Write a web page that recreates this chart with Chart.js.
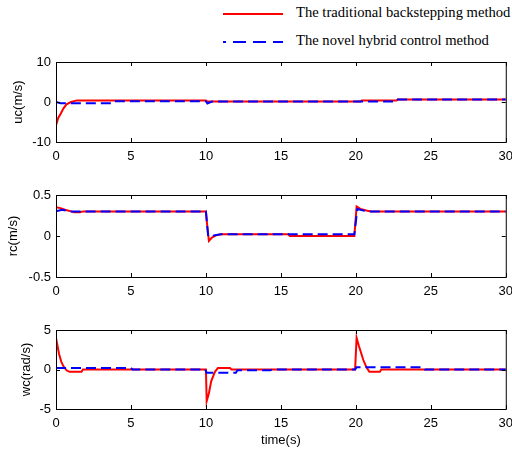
<!DOCTYPE html>
<html>
<head>
<meta charset="utf-8">
<script src="https://cdn.jsdelivr.net/npm/chart.js@4/dist/chart.umd.min.js"></script>
<style>
  html, body { margin: 0; padding: 0; width: 512px; height: 452px; overflow: hidden; background: #fff; }
  canvas { position: absolute; left: 0; }
  .legend { position: absolute; left: 222px; font-family: "Liberation Serif", "Times New Roman", serif; font-size: 14.6px; color: #000; white-space: nowrap; }
  .legend svg { vertical-align: middle; margin-right: 12px; }
</style>
</head>
<body>
<div class="legend" style="top:4px;"><svg width="62" height="6"><line x1="1" y1="3" x2="61" y2="3" stroke="#ff0000" stroke-width="2"/></svg>The traditional backstepping method</div>
<div class="legend" style="top:32px;"><svg width="62" height="6"><line x1="1" y1="3" x2="61" y2="3" stroke="#0000ff" stroke-width="2" stroke-dasharray="3,7,13,7,13,7,13"/></svg>The novel hybrid control method</div>

<canvas id="ucChart" width="520" height="116" style="top:49px"></canvas>
<canvas id="rcChart" width="520" height="117" style="top:182px"></canvas>
<canvas id="wcChart" width="520" height="135" style="top:317px"></canvas>

<script>
// time axis ticks
const timeTicks = [0, 5, 10, 15, 20, 25, 30];

// uc(m/s)
const ucTradT = [0, 0.15, 0.33, 0.5, 0.7, 1.0, 1.4, 10, 10.1, 20.3, 20.4, 22.7, 22.8, 30];
const ucTradV = [-5.8, -4, -2.8, -1.6, -0.6, 0, 0.4, 0.4, 0.1, 0.1, 0.4, 0.4, 0.6, 0.6];
const ucHybT = [0, 0.3, 3.8, 3.9, 10, 10.1, 10.4, 22.6, 22.7, 30];
const ucHybV = [0, -0.3, -0.3, 0.2, 0.2, -0.4, 0.1, 0.1, 0.6, 0.6];

// rc(m/s)
const rcTradT = [0, 0.3, 0.6, 1.0, 1.2, 1.6, 1.8, 10, 10.1, 10.2, 10.4, 10.7, 11, 15.5, 15.6, 19.9, 20.05, 20.3, 20.7, 21, 30];
const rcTradV = [0.35, 0.34, 0.32, 0.3, 0.29, 0.29, 0.3, 0.3, 0.1, -0.06, -0.02, 0.01, 0.02, 0.02, 0, 0, 0.36, 0.33, 0.31, 0.3, 0.3];
const rcHybT = [0, 0.4, 0.9, 10, 10.15, 10.3, 10.6, 11, 19.9, 20.1, 20.5, 21, 30];
const rcHybV = [0.3, 0.32, 0.3, 0.3, 0, -0.01, 0.01, 0.02, 0.02, 0.33, 0.31, 0.3, 0.3];

// wc(rad/s)
const wcTradT = [0, 0.1, 0.2, 0.35, 0.5, 0.7, 0.9, 1.7, 1.8, 10, 10.05, 10.2, 10.35, 10.6, 10.8, 11.6, 11.7, 19.95, 20.05, 20.2, 20.5, 20.7, 20.9, 21.6, 21.7, 30];
const wcTradV = [4, 3, 2, 1, 0.4, -0.1, -0.3, -0.3, 0, 0, -4, -3, -1.5, -0.3, 0.2, 0.2, 0, 0, 4, 3, 1.2, 0.3, -0.3, -0.3, 0, 0];
const wcHybT = [0, 5, 5.1, 9.95, 10.05, 12, 12.1, 14.3, 14.4, 19.95, 20.05, 24.5, 24.6, 30];
const wcHybV = [0.2, 0.2, 0, 0, -0.4, -0.4, -0.1, -0.1, 0, 0, 0.3, 0.3, 0, 0];

const tickFont = { family: 'Liberation Sans, Arial, sans-serif', size: 13 };

// box around the plot area, inward ticks and the rotated y label
const framePlugin = {
  id: 'frame',
  afterDraw(chart, args, opts) {
    const { ctx, chartArea: a, scales } = chart;
    ctx.save();
    ctx.strokeStyle = '#000';
    ctx.lineWidth = 1;
    ctx.strokeRect(a.left + 0.5, a.top + 0.5, a.right - a.left, a.bottom - a.top);
    scales.x.ticks.forEach(t => {
      const px = Math.round(scales.x.getPixelForValue(t.value)) + 0.5;
      ctx.beginPath();
      ctx.moveTo(px, a.top); ctx.lineTo(px, a.top + 4);
      ctx.moveTo(px, a.bottom); ctx.lineTo(px, a.bottom - 4);
      ctx.stroke();
    });
    scales.y.ticks.forEach(t => {
      const py = Math.round(scales.y.getPixelForValue(t.value)) + 0.5;
      ctx.beginPath();
      ctx.moveTo(a.left, py); ctx.lineTo(a.left + 4, py);
      ctx.moveTo(a.right, py); ctx.lineTo(a.right - 4, py);
      ctx.stroke();
    });
    // y label
    ctx.translate(opts.x, (a.top + a.bottom) / 2);
    ctx.rotate(-Math.PI / 2);
    ctx.fillStyle = '#000';
    ctx.font = '13px "Liberation Sans", Arial, sans-serif';
    ctx.textAlign = 'center';
    ctx.textBaseline = 'middle';
    ctx.fillText(opts.text, 0, 0);
    ctx.restore();
  }
};

function toPoints(ts, vs) {
  return ts.map((t, i) => ({ x: t, y: vs[i] }));
}

function makeChart(id, opts) {
  const ctx = document.getElementById(id).getContext('2d');
  return new Chart(ctx, {
    type: 'line',
    data: {
      datasets: [
        {
          label: 'The traditional backstepping method',
          data: toPoints(opts.tradT, opts.tradV),
          borderColor: '#ff0000',
          borderWidth: 2,
          order: 2
        },
        {
          label: 'The novel hybrid control method',
          data: toPoints(opts.hybT, opts.hybV),
          borderColor: '#0000ff',
          borderWidth: 2,
          borderDash: [10, 5],
          order: 1
        }
      ]
    },
    options: {
      responsive: false,
      animation: false,
      elements: { point: { radius: 0 }, line: { tension: 0 } },
      layout: { padding: { top: 13, right: 14, left: 0, bottom: 0 } },
      plugins: {
        legend: { display: false },
        tooltip: { enabled: false },
        frame: { text: opts.yTitle, x: opts.yTitleX }
      },
      scales: {
        x: {
          type: 'linear',
          min: 0,
          max: 30,
          afterBuildTicks: s => { s.ticks = timeTicks.map(v => ({ value: v })); },
          afterFit: s => { s.height = opts.xHeight; },
          grid: { display: false, drawTicks: false },
          border: { display: false },
          ticks: { color: '#000', font: tickFont, padding: 7, maxRotation: 0 },
          title: {
            display: !!opts.xTitle,
            text: opts.xTitle || '',
            color: '#000',
            font: tickFont,
            padding: { top: 0, bottom: 4 }
          }
        },
        y: {
          min: opts.yMin,
          max: opts.yMax,
          afterBuildTicks: s => { s.ticks = opts.yTicks.map(v => ({ value: v })); },
          afterFit: s => { s.width = 56; },
          grid: { display: false, drawTicks: false },
          border: { display: false },
          ticks: { color: '#000', font: tickFont, padding: 5 }
        }
      }
    },
    plugins: [framePlugin]
  });
}

makeChart('ucChart', {
  tradT: ucTradT, tradV: ucTradV, hybT: ucHybT, hybV: ucHybV,
  yMin: -10, yMax: 10, yTicks: [-10, 0, 10], yTitle: 'uc(m/s)', yTitleX: 18, xHeight: 23
});
makeChart('rcChart', {
  tradT: rcTradT, tradV: rcTradV, hybT: rcHybT, hybV: rcHybV,
  yMin: -0.5, yMax: 0.5, yTicks: [-0.5, 0, 0.5], yTitle: 'rc(m/s)', yTitleX: 13.5, xHeight: 22
});
makeChart('wcChart', {
  tradT: wcTradT, tradV: wcTradV, hybT: wcHybT, hybV: wcHybV,
  yMin: -5, yMax: 5, yTicks: [-5, 0, 5], yTitle: 'wc(rad/s)', yTitleX: 26, xHeight: 43, xTitle: 'time(s)'
});
</script>
</body>
</html>
